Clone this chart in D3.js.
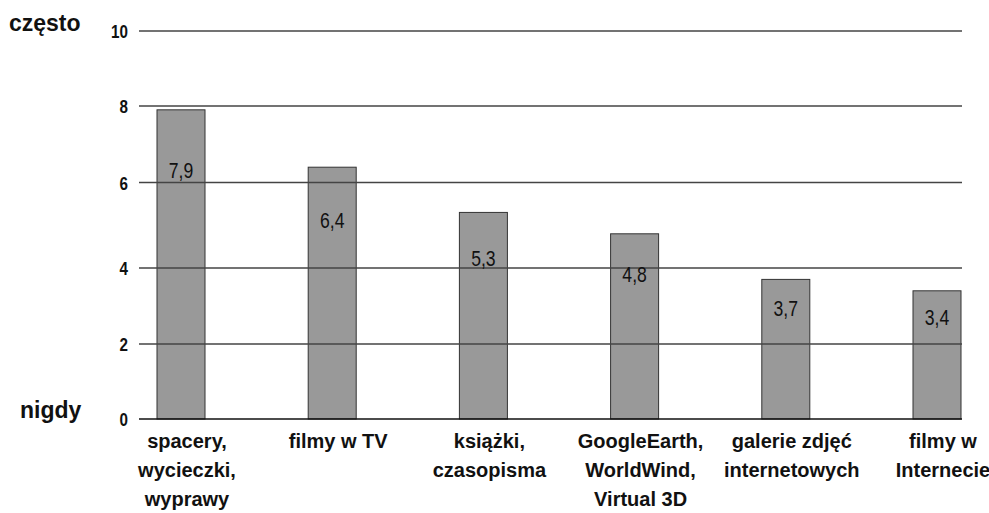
<!DOCTYPE html>
<html lang="pl">
<head>
  <meta charset="UTF-8">
  <title>Jak często</title>
  <script src="https://d3js.org/d3.v7.min.js"></script>
  <style>
    body {
      margin: 0;
      background: white;
    }
    svg {
      display: block;
      font-family: 'Liberation Sans', Arial, sans-serif;
    }
  </style>
</head>
<body>
  <svg id="chart" width="989" height="513"></svg>

  <script>
    // data
    var categories = [
      ["spacery,", "wycieczki,", "wyprawy"],
      ["filmy w TV"],
      ["książki,", "czasopisma"],
      ["GoogleEarth,", "WorldWind,", "Virtual 3D"],
      ["galerie zdjęć", "internetowych"],
      ["filmy w", "Internecie"]
    ];
    var values = [7.9, 6.4, 5.3, 4.8, 3.7, 3.4];
    var yTicks = [0, 2, 4, 6, 8, 10];

    var svg = d3.select("#chart");
    var left = 139, right = 962;

    // the scanned chart has uneven gridline spacing, so the scale follows it
    var y = d3.scaleLinear()
      .domain(yTicks)
      .range([419, 344, 268, 182.5, 106, 31]);

    var x = d3.scalePoint()
      .domain(d3.range(categories.length))
      .range([181, 937]);

    var barW = 48;
    var squeeze = 0.8; // numbers in the original are set in a narrow face

    // bars
    svg.append("g")
      .selectAll("rect")
      .data(values)
      .join("rect")
      .attr("x", (d, i) => x(i) - barW / 2)
      .attr("y", d => y(d))
      .attr("width", barW)
      .attr("height", d => y(0) - y(d))
      .attr("fill", "#999999")
      .attr("stroke", "#333")
      .attr("stroke-width", 1);

    // gridlines over the bars
    svg.append("g")
      .selectAll("line")
      .data(yTicks.filter(t => t > 0))
      .join("line")
      .attr("x1", left)
      .attr("x2", right)
      .attr("y1", d => y(d))
      .attr("y2", d => y(d))
      .attr("stroke", "#444")
      .attr("stroke-width", 1.5);

    svg.append("line")
      .attr("x1", left).attr("x2", right)
      .attr("y1", y(0)).attr("y2", y(0))
      .attr("stroke", "#111")
      .attr("stroke-width", 1.5);

    // y tick labels
    svg.append("g")
      .selectAll("text")
      .data(yTicks)
      .join("text")
      .attr("transform", d => `translate(128,${y(d) + 7}) scale(${squeeze},1)`)
      .attr("text-anchor", "end")
      .attr("font-size", 19)
      .attr("font-weight", "bold")
      .attr("fill", "#111")
      .text(d => d);

    // value labels inside bars
    svg.append("g")
      .selectAll("text")
      .data(values)
      .join("text")
      .attr("transform", (d, i) => `translate(${x(i)},${y(d * 0.8) + 8}) scale(${squeeze},1)`)
      .attr("text-anchor", "middle")
      .attr("font-size", 22)
      .attr("fill", "#111")
      .text(d => String(d).replace(".", ","));

    // category labels
    var cat = svg.append("g")
      .selectAll("text")
      .data(categories)
      .join("text")
      .attr("x", (d, i) => x(i) + 6)
      .attr("y", 448)
      .attr("text-anchor", "middle")
      .attr("font-size", 20)
      .attr("font-weight", "bold")
      .attr("fill", "#111");

    cat.selectAll("tspan")
      .data(d => d)
      .join("tspan")
      .attr("x", function() { return this.parentNode.getAttribute("x"); })
      .attr("dy", (d, i) => i === 0 ? 0 : 29)
      .text(d => d);

    // end labels
    svg.append("text")
      .attr("x", 9).attr("y", 31)
      .attr("font-size", 23).attr("font-weight", "bold")
      .attr("fill", "#111")
      .text("często");

    svg.append("text")
      .attr("x", 20).attr("y", 418)
      .attr("font-size", 23).attr("font-weight", "bold")
      .attr("fill", "#111")
      .text("nigdy");
  </script>
</body>
</html>
